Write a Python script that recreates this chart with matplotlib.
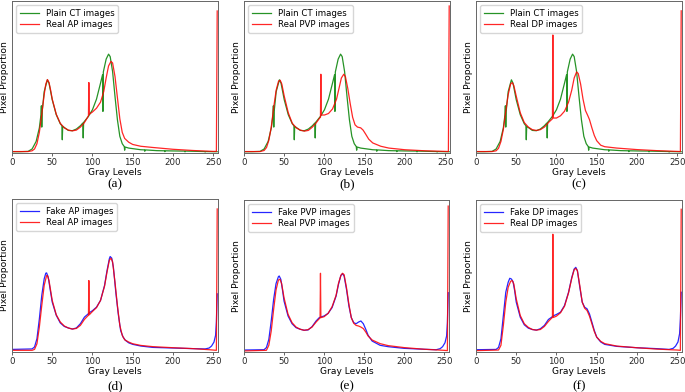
import matplotlib.pyplot as plt

# Plain CT histogram (shared by panels a-c), values as % of axis height
ct_x = [0, 10, 20, 25, 30, 34, 36, 36.5, 37, 37.5, 40, 44, 46, 50, 55, 60, 62, 62.5, 63,
        70, 75, 80, 85, 88, 88.5, 89, 95, 100, 105, 110, 112.5, 113, 113.5, 117, 120, 122,
        125, 128, 131, 134, 137, 139.5, 140, 140.5, 145, 160, 164.5, 165, 165.5, 180,
        189.5, 190, 190.5, 200, 214.5, 215, 215.5, 239.5, 240, 240.5, 250, 255]
ct_y = [0.2, 0.2, 0.4, 2, 7, 16, 24.7, 30.6, 16.5, 26.9, 40, 47.8, 45.6, 34.6, 24.7, 18.7,
        17.4, 8.1, 17, 14.3, 14.1, 15.2, 17.4, 19.2, 9.3, 19.6, 23.6, 28, 35, 45.6, 51.1,
        26.9, 53, 61.5, 64.8, 63.2, 53.3, 36.8, 21.4, 10.4, 5.5, 3.6, 1.2, 3.3, 2.6, 1.5,
        1.4, 0.5, 1.4, 0.9, 0.8, 0.2, 0.8, 0.7, 0.6, 0.1, 0.6, 0.3, 0.0, 0.3, 0.2, 0.2]

# Real AP (a)
ap_x = [0, 20, 25, 28, 31, 34, 37, 40, 42, 44, 46, 48, 50, 55, 60, 65, 70, 75, 80, 85, 90,
        94, 95, 95.5, 96, 100, 105, 110, 114, 117, 120, 123, 125, 128, 131, 134, 137, 140,
        145, 150, 160, 175, 200, 225, 250, 254, 255]
ap_y = [0.3, 0.3, 0.8, 2, 5.5, 13, 25, 38, 45, 48, 46, 41, 35, 25, 19, 16, 14.5, 14, 14.5,
        16.5, 19.5, 23, 24, 46, 25, 26.5, 29, 33, 40, 49, 57, 60, 59, 50, 36, 22, 13, 9,
        6.5, 5, 3.8, 3, 1.8, 1, 0.4, 0.4, 93.4]

# Real PVP (b)
pvp_x = [0, 20, 25, 28, 31, 34, 37, 40, 43, 45, 47, 50, 55, 60, 65, 70, 75, 80, 85, 90, 94,
         95, 95.5, 96, 100, 105, 110, 115, 118, 121, 124, 126, 129, 132, 135, 138, 141,
         145, 148, 151, 155, 160, 170, 180, 200, 225, 250, 254, 255]
pvp_y = [0.3, 0.3, 1, 3, 8, 17, 30, 41, 47, 47.5, 45, 37, 26, 19, 16, 14.5, 13.8, 14.3,
         16.5, 19.5, 22.5, 23, 51.5, 24.5, 24.5, 25.5, 28.5, 35, 42, 49, 51.5, 50, 42, 32,
         23, 18, 16.5, 16, 14.5, 12, 8.5, 6, 3.8, 2.6, 1.5, 0.8, 0.4, 0.3, 96.7]

# Real DP (c)
dp_x = [0, 20, 25, 28, 31, 34, 37, 40, 43, 45, 47, 50, 55, 60, 65, 70, 75, 80, 85, 90, 94,
        95, 95.5, 96, 100, 105, 110, 115, 119, 122, 125, 127, 130, 133, 136, 139, 141, 144,
        147, 150, 155, 160, 175, 200, 225, 250, 254, 255]
dp_y = [0.3, 0.3, 0.8, 2.5, 7, 15, 27, 38, 45, 46, 44, 37, 26, 19.5, 16.5, 14.8, 14.3,
        14.8, 16.5, 19.5, 21.5, 22, 77.5, 22.5, 22.5, 24, 27, 33, 41, 49, 53, 52, 45, 35,
        27.5, 24, 21.5, 16, 11, 7.5, 4.5, 3.5, 2.6, 1.6, 0.9, 0.4, 0.3, 93.5]

# Fake vs real AP (d)
fake_ap_x = [0, 25, 28, 31, 34, 37, 40, 42, 43, 45, 48, 50, 55, 60, 65, 70, 75, 80, 85, 90,
             94, 97, 100, 105, 110, 115, 118, 121, 122, 124, 126, 129, 132, 135, 138, 141,
             145, 150, 160, 175, 200, 225, 240, 245, 248, 251, 253, 254, 255]
fake_ap_y = [1.7, 2, 3.3, 8.7, 21.7, 37, 47.8, 51.5, 51.7, 49, 39, 32.6, 24, 19, 16.7,
             15.7, 15, 15.7, 18.5, 22.8, 24.6, 26, 27, 29.3, 33.7, 43.5, 53, 61, 62.4,
             61.3, 55.4, 39, 25, 14, 9.8, 7.6, 6, 5, 3.9, 3, 2.6, 2.2, 2, 2.6, 3.9, 6.5,
             10.9, 19.6, 38]
real_ap_x = [0, 25, 28, 31, 34, 37, 40, 43, 44, 46, 48, 50, 55, 60, 65, 70, 75, 80, 85, 90,
             94, 95, 95.5, 96, 100, 105, 110, 115, 118, 121, 123, 125, 128, 131, 134, 137,
             140, 145, 150, 160, 175, 200, 225, 245, 254, 255]
real_ap_y = [1.1, 1.1, 1.7, 5.4, 16.3, 30.4, 43.5, 50, 50, 46.7, 40.2, 33.7, 24.3, 19.6,
             17, 15.7, 15, 15.4, 17.4, 21.3, 23.5, 24, 46.7, 24.3, 26.5, 29, 33.7, 43, 52,
             60, 61.3, 59, 45.6, 30.4, 17.4, 10.9, 8, 6.5, 5.4, 4.3, 3.5, 2.8, 2.2, 1.5,
             1.1, 93.5]

# Fake vs real PVP (e)
fake_pvp_x = [0, 25, 28, 31, 34, 37, 40, 43, 44, 46, 48, 50, 55, 60, 65, 70, 75, 80, 85,
              90, 94, 97, 100, 105, 110, 115, 118, 121, 123, 125, 128, 131, 134, 137, 140,
              143, 146, 149, 152, 155, 160, 170, 180, 200, 225, 240, 245, 248, 251, 253,
              254, 255]
fake_pvp_y = [1.3, 1.5, 2.9, 8.3, 20.4, 34.6, 45, 49.6, 50, 47.8, 41, 33.5, 23.7, 18.6,
              16, 15, 14.3, 14.5, 16.7, 20.4, 22.6, 23.2, 23.7, 25.4, 29.2, 36.8, 44.5,
              50.4, 51.5, 50, 41.2, 30.3, 22.6, 19.3, 18.6, 19.7, 20.4, 18.6, 15, 11, 7.2,
              4.4, 3.5, 2.4, 1.8, 1.5, 2.2, 3.5, 6.1, 10.5, 19.3, 39]
real_pvp_x = [0, 28, 31, 34, 37, 40, 43, 45, 47, 50, 55, 60, 65, 70, 75, 80, 85, 90, 94,
              95, 95.5, 96, 100, 105, 110, 115, 118, 121, 123, 125, 128, 131, 134, 137, 140,
              143, 146, 149, 152, 155, 160, 170, 180, 200, 225, 250, 254, 255]
real_pvp_y = [0.7, 1.1, 4.4, 13.8, 28, 40.8, 47.4, 47.8, 45, 35.7, 24.8, 19.3, 16.4, 15,
              14.3, 14.7, 16.4, 19.7, 21.9, 22.4, 51.8, 22.6, 23.2, 25.4, 29.8, 37.3, 45.2,
              50.4, 51.8, 50.9, 42.3, 31.4, 22.6, 18.9, 17.5, 17.1, 16.4, 15.4, 13.2, 10.5,
              7.9, 5.5, 4.2, 2.9, 1.8, 1.1, 0.9, 96]

# Fake vs real DP (f)
fake_dp_x = [0, 25, 28, 31, 34, 37, 40, 42, 44, 46, 48, 50, 55, 60, 65, 70, 75, 80, 85, 90,
             94, 97, 100, 105, 110, 115, 119, 122, 124, 126, 129, 132, 135, 138, 141, 144,
             147, 150, 155, 160, 175, 200, 225, 240, 245, 248, 251, 253, 254, 255]
fake_dp_y = [1.5, 1.7, 3, 8.7, 24, 39.3, 45.9, 48.5, 48, 46.3, 40.4, 32.8, 22.9, 17.9,
             15.7, 14.8, 14.4, 15.3, 17.5, 21.4, 22.9, 24, 24.7, 26.2, 30.6, 39.3, 49,
             54.6, 55.7, 53.5, 42.6, 32.8, 29.5, 28.4, 25.1, 19.7, 14.2, 9.8, 6.6, 5, 3.7,
             2.8, 2.2, 1.7, 2.4, 3.9, 6.6, 12, 21.8, 39.3]
real_dp_x = [0, 28, 31, 34, 37, 40, 43, 45, 47, 50, 55, 60, 65, 70, 75, 80, 85, 90, 94, 95,
             95.5, 96, 100, 105, 110, 115, 119, 122, 124, 126, 129, 132, 135, 138, 141, 144,
             147, 150, 155, 160, 175, 200, 225, 250, 254, 255]
real_dp_y = [0.9, 1.3, 4.4, 17.5, 32.8, 42.6, 46.5, 47, 44.8, 35, 24, 18.6, 16.2, 14.8,
             14.4, 14.8, 16.8, 20.1, 22.3, 22.7, 77.5, 22.7, 23.6, 25.8, 30.1, 38.9, 48.5,
             54.1, 55, 53.5, 43.7, 32.8, 28.8, 27.3, 23.6, 18.6, 13.5, 9.8, 7, 5.5, 3.9,
             2.8, 1.9, 1.3, 1.1, 93.9]

panels = [
    ('(a)', [(ct_x, ct_y, 'green', 'Plain CT images'), (ap_x, ap_y, 'red', 'Real AP images')]),
    ('(b)', [(ct_x, ct_y, 'green', 'Plain CT images'), (pvp_x, pvp_y, 'red', 'Real PVP images')]),
    ('(c)', [(ct_x, ct_y, 'green', 'Plain CT images'), (dp_x, dp_y, 'red', 'Real DP images')]),
    ('(d)', [(fake_ap_x, fake_ap_y, 'blue', 'Fake AP images'), (real_ap_x, real_ap_y, 'red', 'Real AP images')]),
    ('(e)', [(fake_pvp_x, fake_pvp_y, 'blue', 'Fake PVP images'), (real_pvp_x, real_pvp_y, 'red', 'Real PVP images')]),
    ('(f)', [(fake_dp_x, fake_dp_y, 'blue', 'Fake DP images'), (real_dp_x, real_dp_y, 'red', 'Real DP images')]),
]

W, H = 685, 392
# axes boxes in pixels: left, top, right, bottom
boxes = [(12, 1, 218, 153), (244, 1, 450, 153), (476, 1, 682, 153),
         (12, 199, 218, 352), (244, 200, 449, 352), (476, 200, 682, 352)]

fig = plt.figure(figsize=(W / 100, H / 100), dpi=100)

for i, ((cap, series), (l, t, r, b)) in enumerate(zip(panels, boxes)):
    ax = fig.add_axes([l / W, 1 - b / H, (r - l) / W, (b - t) / H])
    for xs, ys, col, lab in series:
        ax.plot(xs, ys, color=col, lw=0.9, alpha=0.85, label=lab)
    ax.set_xlim(0, 256)
    if i < 3:
        ax.set_ylim(-0.66, 100)
    else:
        ax.set_ylim(0, 100)
    ax.set_yticks([])
    ax.set_xticks([0, 50, 100, 150, 200, 250])
    ax.tick_params(axis='x', labelsize=6.2, length=2, width=0.5, pad=1.5, colors='0.15')
    for sp in ax.spines.values():
        sp.set_color('0.4')
        sp.set_linewidth(0.7)
    ax.set_xlabel('Gray Levels', fontsize=6.6, labelpad=1)
    ax.set_ylabel('Pixel Proportion', fontsize=6.6, labelpad=2)
    ax.legend(loc='upper left', fontsize=6.2, frameon=True, handlelength=2.2,
              borderpad=0.4, labelspacing=0.3, borderaxespad=0.5)
    cap_y = 184.5 if i < 3 else 386
    fig.text((l + r) / 2 / W, 1 - cap_y / H, cap, ha='center', va='center',
             family='Liberation Serif', fontsize=9.5)

fig.savefig('out.png', dpi=100)
